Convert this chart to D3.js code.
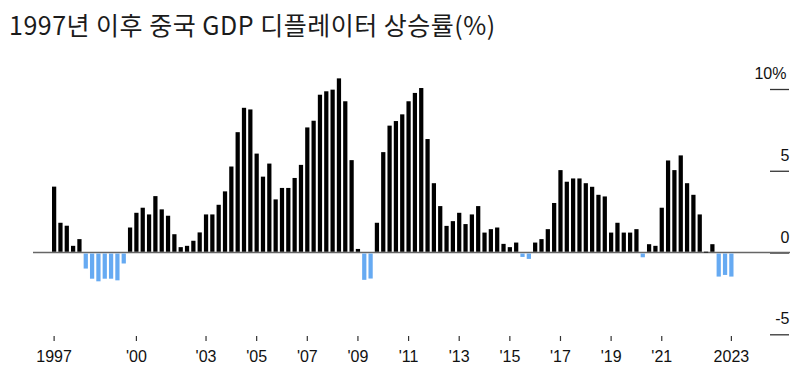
<!DOCTYPE html>
<html>
<head>
<meta charset="utf-8">
<script src="https://cdn.jsdelivr.net/npm/d3@7"></script>
<style>
  body { margin: 0; background: #fff; }
  svg { display: block; }
  .tick text { font-family: "Liberation Sans", Arial, sans-serif; }
</style>
</head>
<body>
<svg width="811" height="376"></svg>
<script>
// quarterly GDP deflator yoy (%), 1997Q1 - 2023Q4
const years = d3.range(1997, 2024);
const quarters = years.flatMap(y => [1, 2, 3, 4].map(q => `${y}Q${q}`));
const values = [
  4.03, 1.82, 1.64, 0.41, 0.82, -0.98, -1.6, -1.76, -1.6, -1.6, -1.7, -0.67,
  1.53, 2.43, 2.74, 2.33, 3.45, 2.64, 2.25, 1.12, 0.33, 0.41, 0.72, 1.23,
  2.33, 2.33, 2.92, 3.74, 5.26, 7.36, 8.85, 8.75, 6.05, 4.64, 5.44, 3.25,
  3.95, 3.95, 4.56, 5.36, 7.65, 8.06, 9.65, 9.86, 9.96, 10.65, 9.25, 5.65,
  0.22, -1.67, -1.59, 1.82, 6.14, 7.76, 8.04, 8.45, 9.25, 9.76, 10.06, 6.94,
  4.24, 2.84, 1.63, 1.92, 2.43, 1.74, 2.33, 2.84, 1.22, 1.43, 1.53, 0.53,
  0.33, 0.61, -0.27, -0.39, 0.61, 0.82, 1.43, 3.03, 5.04, 4.33, 4.53, 4.53,
  4.24, 4.02, 3.53, 3.43, 1.22, 1.82, 1.22, 1.22, 1.43, -0.29, 0.51, 0.41,
  2.74, 5.63, 5.04, 5.94, 4.24, 3.53, 2.33, 0.05, 0.51, -1.47, -1.37, -1.47
];
const xTicks = ['1997Q1', '2000Q2', '2003Q1', '2005Q1', '2007Q1', '2009Q1', '2011Q1',
  '2013Q1', '2015Q1', '2017Q1', '2019Q1', '2021Q1', '2023Q4'];
const xTickLabels = ['1997', "'00", "'03", "'05", "'07", "'09", "'11",
  "'13", "'15", "'17", "'19", "'21", '2023'];
const yTicks = [-5, 0, 5, 10];

const data = quarters.map((q, i) => ({q, v: values[i]}));

const svg = d3.select('svg');

const x = d3.scaleBand()
  .domain(quarters)
  .range([52, 733.5])
  .paddingInner(0.33)
  .paddingOuter(0);

const y = d3.scaleLinear()
  .domain([-5, 10])
  .range([334.3, 89]);

// title
svg.append('text')
  .attr('x', 9)
  .attr('y', 35)
  .attr('font-family', '"Noto Sans CJK KR", "Noto Sans", sans-serif')
  .attr('font-size', 25)
  .attr('font-weight', 400)
  .attr('letter-spacing', 0.5)
  .attr('fill', '#1b1b1b')
  .text('1997년 이후 중국 GDP 디플레이터 상승률(%)');

// right axis: short lines with labels above them
const yAxis = d3.axisRight(y)
  .tickValues(yTicks)
  .tickSize(19)
  .tickFormat(d => d);
const yAxisG = svg.append('g')
  .attr('transform', 'translate(770,0)')
  .call(yAxis);
yAxisG.select('.domain').remove();
yAxisG.selectAll('.tick line')
  .attr('stroke', '#333')
  .attr('stroke-width', 1.3);
yAxisG.selectAll('.tick text')
  .attr('x', 19.5)
  .attr('dy', -10.5)
  .attr('text-anchor', 'end')
  .attr('font-size', 16)
  .attr('fill', '#111');
yAxisG.selectAll('.tick')
  .filter(d => d === 10)
  .select('text')
  .attr('x', 16.5)
  .append('tspan')
  .text('%');

// zero line
svg.append('line')
  .attr('x1', 33)
  .attr('x2', 790)
  .attr('y1', y(0))
  .attr('y2', y(0))
  .attr('stroke', '#666')
  .attr('stroke-width', 1.6);

// bars
svg.append('g').selectAll('rect')
  .data(data).enter().append('rect')
    .attr('x', d => x(d.q))
    .attr('width', x.bandwidth())
    .attr('y', d => d.v >= 0 ? y(d.v) : y(0) + 1)
    .attr('height', d => Math.max(0.8, Math.abs(y(d.v) - y(0)) - (d.v < 0 ? 1 : 0.8)))
    .attr('fill', d => d.v >= 0 ? '#000' : '#66aaf2');

// bottom axis
const xAxis = d3.axisBottom(x)
  .tickValues(xTicks)
  .tickSize(5)
  .tickSizeOuter(0)
  .tickFormat(d => xTickLabels[xTicks.indexOf(d)]);
const xAxisG = svg.append('g')
  .attr('transform', 'translate(0,336)')
  .call(xAxis);
xAxisG.select('.domain').remove();
xAxisG.selectAll('.tick line')
  .attr('stroke', '#333')
  .attr('stroke-width', 1.2);
xAxisG.selectAll('.tick text')
  .attr('y', 15)
  .attr('font-size', 16)
  .attr('fill', '#111');
</script>
</body>
</html>
